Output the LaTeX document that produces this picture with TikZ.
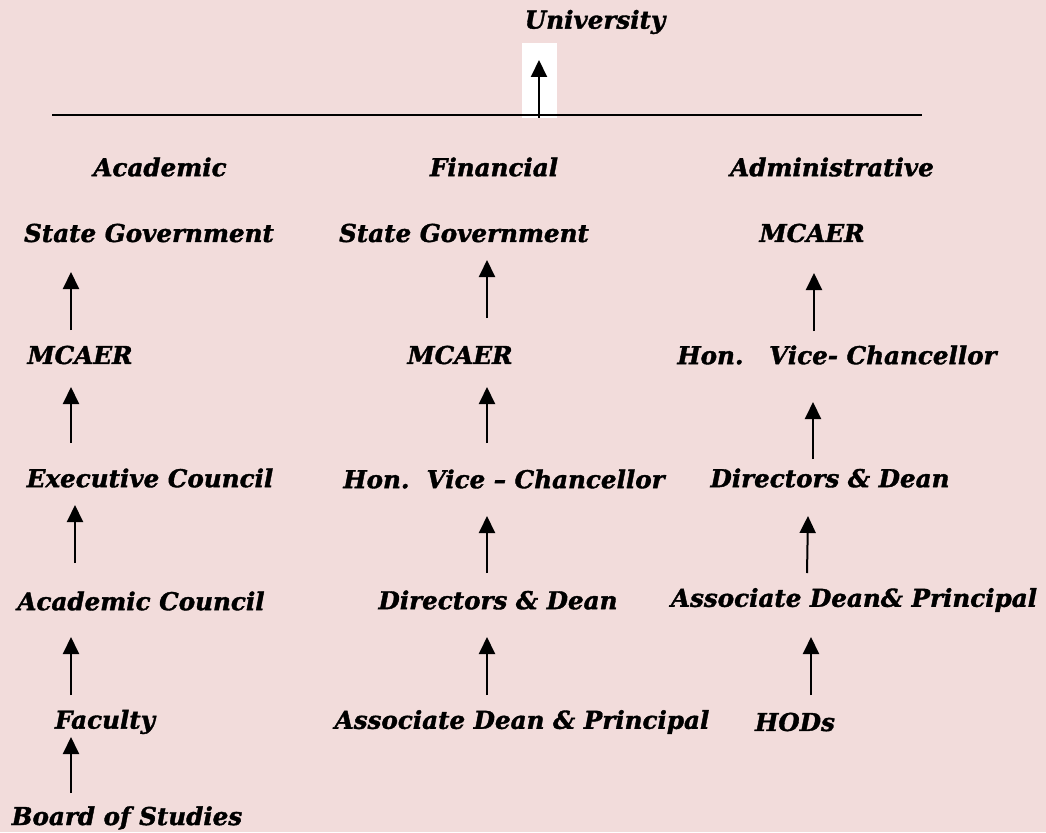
\documentclass[tikz,border=0pt]{standalone}
\usepackage{fontspec}
\setmainfont{DejaVu Serif}[BoldItalicFeatures={FakeBold=1.5}]
\usetikzlibrary{arrows.meta}
\definecolor{bgpink}{HTML}{F2DCDB}
\tikzset{
  lbl/.style={inner sep=0pt, anchor=center, font=\fontsize{24.6}{28}\selectfont\bfseries\itshape},
  uparrow/.style={line width=2pt, -{Triangle[width=16pt,length=17pt]}},
}
\begin{document}
\begin{tikzpicture}[x=1pt,y=-1pt]
\fill[bgpink] (0,0) rectangle (1046,832);
\useasboundingbox (0,0) rectangle (1046,832);
% top
\node[lbl] (univ) at (595,22) {University};
\fill[white] (522,43) rectangle (557,118);
\coordinate (hl) at (52,115);
\coordinate (hr) at (922,115);
\draw[line width=1.5pt] (hl) -- (hr);
\coordinate (ua0) at (539,118);
\coordinate (ua1) at (539,60);
\draw[uparrow] (ua0) -- (ua1);
% headings
\node[lbl] (hacad) at (160,167) {Academic};
\node[lbl] (hfin) at (494,167) {Financial};
\node[lbl] (hadm) at (832,167) {Administrative};
% academic column
\node[lbl] (a1) at (149,233) {State Government};
\node[lbl] (a2) at (80,355) {MCAER};
\node[lbl] (a3) at (150,478) {Executive Council};
\node[lbl] (a4) at (141,601) {Academic Council};
\node[lbl] (a5) at (105,722) {Faculty};
\node[lbl] (a6) at (127,818) {Board of Studies};
% financial column
\node[lbl] (f1) at (464,233) {State Government};
\node[lbl] (f2) at (460,355) {MCAER};
\node[lbl] (f3) at (504,479) {Hon.\ \ Vice -- Chancellor};
\node[lbl] (f4) at (498,600) {Directors \& Dean};
\node[lbl] (f5) at (522,722) {Associate Dean \& Principal};
% administrative column
\node[lbl] (d1) at (812,233) {MCAER};
\node[lbl] (d2) at (837,355) {Hon.\ \ \ Vice- Chancellor};
\node[lbl] (d3) at (830,478) {Directors \& Dean};
\node[lbl] (d4) at (854,600) {Associate Dean\& Principal};
\node[lbl] (d5) at (795,722) {HODs};
% arrows academic
\coordinate (aa1s) at (71,330); \coordinate (aa1e) at (71,272);
\coordinate (aa2s) at (71,443); \coordinate (aa2e) at (71,387);
\coordinate (aa3s) at (75,563); \coordinate (aa3e) at (75,505);
\coordinate (aa4s) at (71,695); \coordinate (aa4e) at (71,637);
\coordinate (aa5s) at (71,793); \coordinate (aa5e) at (71,737);
\foreach \i in {1,...,5} {\draw[uparrow] (aa\i s) -- (aa\i e);}
% arrows financial
\coordinate (fa1s) at (487,318); \coordinate (fa1e) at (487,260);
\coordinate (fa2s) at (487,443); \coordinate (fa2e) at (487,387);
\coordinate (fa3s) at (487,573); \coordinate (fa3e) at (487,516);
\coordinate (fa4s) at (487,695); \coordinate (fa4e) at (487,637);
\foreach \i in {1,...,4} {\draw[uparrow] (fa\i s) -- (fa\i e);}
% arrows administrative
\coordinate (da1s) at (814,331); \coordinate (da1e) at (814,273);
\coordinate (da2s) at (813,459); \coordinate (da2e) at (813,402);
\coordinate (da3s) at (807,573); \coordinate (da3e) at (808,516);
\coordinate (da4s) at (811,695); \coordinate (da4e) at (811,637);
\foreach \i in {1,...,4} {\draw[uparrow] (da\i s) -- (da\i e);}
\end{tikzpicture}
\end{document}
